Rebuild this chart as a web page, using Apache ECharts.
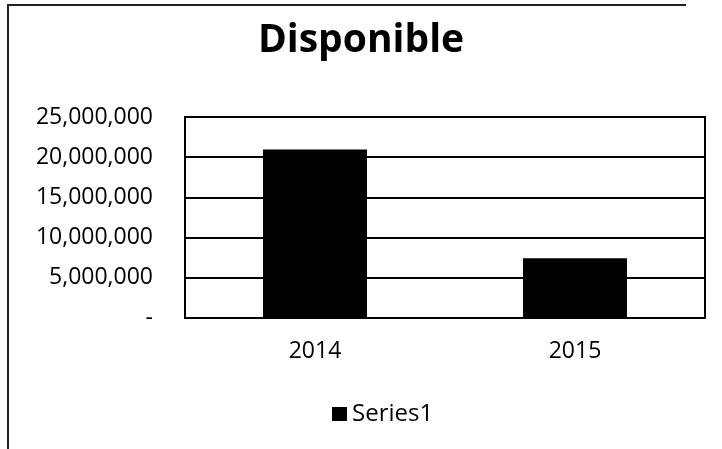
<!DOCTYPE html>
<html>
<head>
<meta charset="utf-8">
<title>Disponible</title>
<script src="https://cdn.jsdelivr.net/npm/echarts@6/dist/echarts.min.js"></script>
<style>
  html, body { margin: 0; padding: 0; background: #fff; }
  #main { width: 722px; height: 449px; }
</style>
</head>
<body>
<div id="main"></div>
<script>
// data
var categories = ['2014', '2015'];
var series1 = [20950000, 7430000];
var yTicks = [0, 5000000, 10000000, 15000000, 20000000, 25000000];

var myChart = echarts.init(document.getElementById('main'));

var font = '"Open Sans", Lato, sans-serif';

var option = {
    backgroundColor: '#fff',
    title: {
        text: 'Disponible',
        left: 'center',
        top: 16,
        textStyle: { fontFamily: font, fontSize: 39, fontWeight: 'bold', color: '#000' }
    },
    legend: {
        data: ['Series1'],
        left: 327,
        top: 397,
        icon: 'rect',
        itemWidth: 15,
        itemHeight: 14,
        itemGap: 4,
        textStyle: { fontFamily: font, fontSize: 24, color: '#000' }
    },
    grid: {
        left: 185, right: 17, top: 117, bottom: 131,
        show: true,
        borderColor: '#000',
        borderWidth: 2,
        containLabel: false
    },
    xAxis: {
        type: 'category',
        data: categories,
        axisLine: { lineStyle: { color: '#000', width: 2 } },
        axisTick: { show: false },
        axisLabel: { margin: 22, fontFamily: font, fontSize: 23, color: '#000' }
    },
    yAxis: {
        type: 'value',
        min: yTicks[0],
        max: yTicks[yTicks.length - 1],
        interval: yTicks[1] - yTicks[0],
        axisLine: { show: false },
        axisTick: { show: false },
        splitLine: { lineStyle: { color: '#000', width: 2 } },
        axisLabel: {
            margin: 32,
            fontFamily: font,
            fontSize: 23,
            color: '#000',
            formatter: function (v) {
                return v === 0 ? '-' : v.toLocaleString('en-US');
            }
        }
    },
    series: [{
        name: 'Series1',
        type: 'bar',
        data: series1,
        barWidth: '40%',
        itemStyle: { color: '#000' }
    }],
    // scanned frame of the chart (top and left edges only)
    graphic: [
        { type: 'line', shape: { x1: 7, y1: 5, x2: 686, y2: 5 }, style: { stroke: '#222', lineWidth: 2 } },
        { type: 'line', shape: { x1: 8, y1: 5, x2: 8, y2: 449 }, style: { stroke: '#222', lineWidth: 2 } }
    ]
};

myChart.setOption(option);
</script>
</body>
</html>
